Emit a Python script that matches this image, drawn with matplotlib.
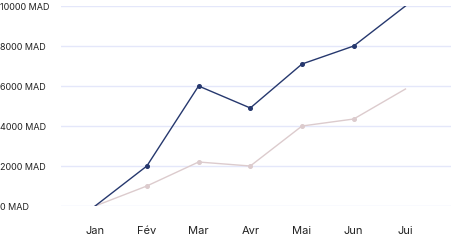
import matplotlib.pyplot as plt

months = ["Jan", "Fév", "Mar", "Avr", "Mai", "Jun", "Jui"]
revenue = [0, 2000, 6000, 4900, 7100, 8000, 10000]
costs = [0, 1000, 2200, 2000, 4000, 4350, 5850]
yticks = [0, 2000, 4000, 6000, 8000, 10000]

plt.rcParams['font.family'] = ['Inter', 'DejaVu Sans']

fig = plt.figure(figsize=(4.52, 2.40), dpi=100)
ax = fig.add_axes([61 / 452, 1 - 206 / 240, 391 / 452, 200 / 240])

x = list(range(len(months)))
ax.plot(x, costs, color="#dccbcd", lw=1.0, marker="o", ms=2.6,
        markevery=slice(1, 6))
ax.plot(x, revenue, color="#26386e", lw=1.0, marker="o", ms=2.6,
        markevery=slice(1, 6))

ax.set_xlim(-0.66, 6.9)
ax.set_ylim(0, 10000)
ax.set_xticks(x)
ax.set_xticklabels(months, fontsize=8, color="#222222")
ax.set_yticks(yticks)
ax.set_yticklabels([f"{v} MAD" for v in yticks], fontsize=6.5, color="#222222",
                   ha="left")
ax.tick_params(axis="y", length=0, pad=44)
ax.tick_params(axis="x", length=0, pad=14.5)
ax.grid(axis="y", color="#e4e7fa", lw=1)
ax.set_axisbelow(True)
for s in ax.spines.values():
    s.set_visible(False)

fig.savefig("out.png", dpi=100)
